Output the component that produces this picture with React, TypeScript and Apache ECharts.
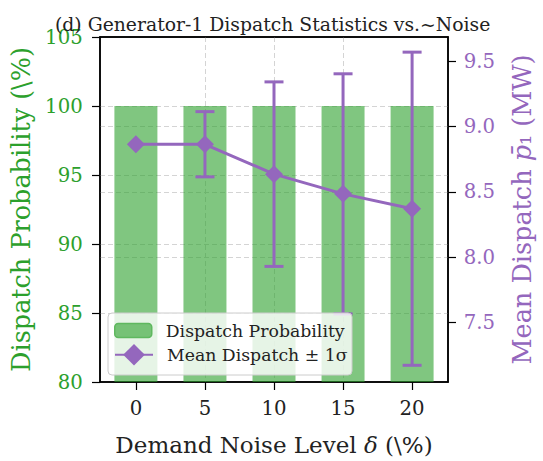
import React, { useEffect, useRef } from "react";
import * as echarts from "echarts";

const noiseLevels = [0, 5, 10, 15, 20];
const dispatchProb = [100, 100, 100, 100, 100];
const meanDispatch = [8.865, 8.865, 8.636, 8.485, 8.371];
const stdDispatch = [0, 0.25, 0.707, 0.92, 1.2];
const leftTicks = [80, 85, 90, 95, 100, 105];
const rightTicks = [7.5, 8.0, 8.5, 9.0, 9.5];

const GREEN = "#2ca02c";
const PURPLE = "#9467bd";
const FONT = "DejaVu Serif";

export default function App() {
  const ref = useRef<HTMLDivElement>(null);
  useEffect(() => {
    if (!ref.current) return;
    const chart = echarts.init(ref.current, null, { renderer: "svg" });
    const gridLine = {
      show: true,
      showMinLine: false,
      showMaxLine: false,
      lineStyle: { color: "#d4d4d4", type: [5, 3], width: 1 },
    };
    const legendText = { fontFamily: FONT, fontSize: 17.3, color: "#222", padding: [0, 0, 0, 9] };
    const option: any = {
      animation: false,
      backgroundColor: "#fff",
      textStyle: { fontFamily: FONT },
      title: {
        text: "(d) Generator-1 Dispatch Statistics vs.~Noise",
        left: 50,
        top: 10,
        textStyle: { fontFamily: FONT, fontSize: 18.8, fontWeight: "normal", color: "#222" },
      },
      grid: {
        left: 100,
        right: 82,
        top: 37,
        bottom: 75,
        show: true,
        borderColor: "#000",
        borderWidth: 1.5,
        backgroundColor: "transparent",
      },
      graphic: [
        {
          type: "rect",
          z: 10,
          shape: { x: 108, y: 313, width: 244, height: 62, r: 4 },
          style: { fill: "rgba(255,255,255,0.8)", stroke: "#cccccc", lineWidth: 1 },
        },
      ],
      legend: [
        {
          orient: "vertical",
          left: 114,
          top: 322,
          padding: 0,
          z: 11,
          itemWidth: 37,
          itemHeight: 14,
          textStyle: legendText,
          data: [{ name: "Dispatch Probability", itemStyle: { borderColor: "#5fb85f", borderWidth: 1.5 } }],
        },
        {
          orient: "vertical",
          left: 114,
          top: 344,
          padding: 0,
          z: 11,
          itemWidth: 38,
          itemHeight: 27,
          textStyle: legendText,
          data: [{ name: "Mean Dispatch ± 1σ" }],
        },
      ],
      xAxis: [
        {
          type: "value",
          min: -2.6,
          max: 22.6,
          name: "Demand Noise Level {i|δ} (\\%)",
          nameLocation: "middle",
          nameGap: 51,
          nameTextStyle: {
            fontFamily: FONT,
            fontSize: 23,
            color: "#222",
            rich: { i: { fontFamily: FONT, fontSize: 23, fontStyle: "italic", color: "#222" } },
          },
          axisLine: { show: true, onZero: false, lineStyle: { color: "#000", width: 1.5 } },
          axisTick: { show: true, length: 8, lineStyle: { color: "#000", width: 1.2 }, customValues: noiseLevels },
          axisLabel: { customValues: noiseLevels, margin: 16.5, fontFamily: FONT, fontSize: 19.7, color: "#222" },
          splitLine: gridLine,
        },
        {
          type: "value",
          position: "top",
          min: -2.6,
          max: 22.6,
          axisLine: { show: true, onZero: false, lineStyle: { color: "#000", width: 1.5 } },
          axisTick: { show: false },
          axisLabel: { show: false },
          splitLine: { show: false },
        },
      ],
      yAxis: [
        {
          type: "value",
          min: leftTicks[0],
          max: leftTicks[leftTicks.length - 1],
          interval: 5,
          name: "Dispatch Probability (\\%)",
          nameLocation: "middle",
          nameGap: 66,
          nameRotate: 90,
          nameTextStyle: { fontFamily: FONT, fontSize: 25.5, color: GREEN },
          axisLine: { show: true, onZero: false, lineStyle: { color: "#000", width: 1.5 } },
          axisTick: { show: true, length: 8, lineStyle: { color: "#000", width: 1.2 } },
          axisLabel: { margin: 17.3, fontFamily: FONT, fontSize: 19.7, color: GREEN },
          splitLine: gridLine,
        },
        {
          type: "value",
          min: 7.043,
          max: 9.687,
          position: "right",
          name: "Mean Dispatch {i|p̄}₁ (MW)",
          nameLocation: "middle",
          nameGap: 61,
          nameRotate: 90,
          nameTextStyle: {
            fontFamily: FONT,
            fontSize: 25.5,
            color: PURPLE,
            rich: { i: { fontFamily: FONT, fontSize: 25.5, fontStyle: "italic", color: PURPLE } },
          },
          axisLine: { show: true, onZero: false, lineStyle: { color: "#000", width: 1.5 } },
          axisTick: { show: true, length: 8, lineStyle: { color: "#000", width: 1.2 }, customValues: rightTicks },
          axisLabel: {
            customValues: rightTicks,
            margin: 15.7,
            fontFamily: FONT,
            fontSize: 19.7,
            color: PURPLE,
            formatter: (v: number) => v.toFixed(1),
          },
          splitLine: gridLine,
        },
      ],
      series: [
        {
          name: "Dispatch Probability",
          type: "bar",
          yAxisIndex: 0,
          barWidth: 43,
          clip: true,
          itemStyle: { color: "rgba(44,160,44,0.6)" },
          data: noiseLevels.map((x, i) => [x, dispatchProb[i]]),
          z: 2,
        },
        {
          name: "errorbars",
          type: "custom",
          yAxisIndex: 1,
          z: 3,
          encode: { x: 0, y: 1 },
          data: noiseLevels.map((x, i) => [x, meanDispatch[i], stdDispatch[i]]),
          renderItem: (params: any, api: any) => {
            const x = api.value(0);
            const m = api.value(1);
            const s = api.value(2);
            if (!s) return { type: "group", children: [] };
            const top = api.coord([x, m + s]);
            const bot = api.coord([x, m - s]);
            const half = 9.5;
            const style = { stroke: PURPLE, lineWidth: 3 };
            return {
              type: "group",
              children: [
                { type: "line", shape: { x1: top[0], y1: top[1], x2: bot[0], y2: bot[1] }, style },
                { type: "line", shape: { x1: top[0] - half, y1: top[1], x2: top[0] + half, y2: top[1] }, style },
                { type: "line", shape: { x1: bot[0] - half, y1: bot[1], x2: bot[0] + half, y2: bot[1] }, style },
              ],
            };
          },
        },
        {
          name: "Mean Dispatch ± 1σ",
          type: "line",
          yAxisIndex: 1,
          z: 4,
          symbol: "diamond",
          symbolSize: 18,
          color: PURPLE,
          lineStyle: { color: PURPLE, width: 3 },
          itemStyle: { color: PURPLE },
          data: noiseLevels.map((x, i) => [x, meanDispatch[i]]),
        },
      ],
    };
    chart.setOption(option);
    return () => chart.dispose();
  }, []);
  return (
    <div
      ref={ref}
      style={{ position: "fixed", left: 0, top: 0, width: 543, height: 461 }}
    />
  );
}
